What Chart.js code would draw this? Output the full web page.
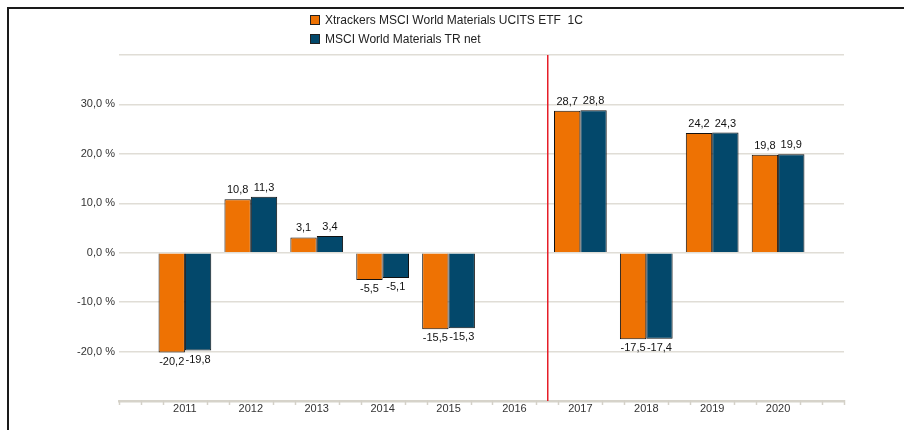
<!DOCTYPE html>
<html>
<head>
<meta charset="utf-8">
<script src="https://cdn.jsdelivr.net/npm/chart.js@4.4.1/dist/chart.umd.min.js"></script>
<style>
  html, body { margin: 0; padding: 0; background: #fff; }
  #wrap { position: relative; width: 904px; height: 430px; overflow: hidden; }
  #frame { position: absolute; left: 7px; top: 7px; width: 904px; height: 430px;
           border-top: 2px solid #1a1a1a; border-left: 2px solid #1a1a1a; }
  #legend { position: absolute; left: 310px; top: 11px; font-family: "Liberation Sans", Arial, sans-serif;
            font-size: 12px; color: #222; }
  #legend div { height: 19px; line-height: 19px; white-space: pre; }
  #legend span.box { display: inline-block; width: 8px; height: 8px; border: 1px solid #222;
                     margin-right: 5px; vertical-align: -1px; }
  canvas { position: absolute; left: 0; top: 0; }
</style>
</head>
<body>
<div id="wrap">
  <canvas id="chart" width="904" height="430"></canvas>
  <div id="frame"></div>
  <div id="legend"></div>
</div>
<script>
// data
const years = ['2011', '2012', '2013', '2014', '2015', '2016', '2017', '2018', '2019', '2020'];
const etfName = 'Xtrackers MSCI World Materials UCITS ETF  1C';
const etfValues = [-20.2, 10.8, 3.1, -5.5, -15.5, null, 28.7, -17.5, 24.2, 19.8];
const idxName = 'MSCI World Materials TR net';
const idxValues = [-19.8, 11.3, 3.4, -5.1, -15.3, null, 28.8, -17.4, 24.3, 19.9];
const yTicks = [-30, -20, -10, 0, 10, 20, 30, 40];
const hiddenTickLabels = [-30, 40];
const markerAfter = '2016';

const orange = '#ee7203';
const teal = '#03486b';

// one empty slot on each side
const labels = [''].concat(years, ['']);
const pad = arr => [null].concat(arr, [null]);

const fmt = v => v.toFixed(1).replace('.', ',');

// legend (stacked)
const legend = document.getElementById('legend');
[[etfName, orange], [idxName, teal]].forEach(([name, col]) => {
  const row = document.createElement('div');
  row.innerHTML = '<span class="box" style="background:' + col + '"></span>';
  row.appendChild(document.createTextNode(name));
  legend.appendChild(row);
});

// value labels above / below the bars
const valueLabels = {
  id: 'valueLabels',
  afterDatasetsDraw(chart) {
    const c = chart.ctx;
    c.save();
    c.font = '11px "Liberation Sans", Arial, sans-serif';
    c.fillStyle = '#111';
    c.textAlign = 'center';
    c.textBaseline = 'middle';
    chart.data.datasets.forEach((ds, di) => {
      chart.getDatasetMeta(di).data.forEach((bar, i) => {
        const v = ds.data[i];
        if (v == null) return;
        const y = v >= 0 ? bar.y - 9 : bar.y + 9;
        c.fillText(fmt(v), bar.x, y);
      });
    });
    c.restore();
  }
};

// small axis ticks + red separator line
const extras = {
  id: 'extras',
  afterDraw(chart) {
    const c = chart.ctx;
    const x = chart.scales.x;
    const area = chart.chartArea;
    c.save();
    c.strokeStyle = '#d4d1c8';
    c.lineWidth = 1.5;
    const n = (labels.length - 1) * 3;
    for (let k = 0; k <= n; k++) {
      if (k % 3 === 0 && k > 0 && k < n) continue;
      const px = Math.round(x.getPixelForValue(k / 3)) + 0.5;
      c.beginPath();
      c.moveTo(px, area.bottom - 1);
      c.lineTo(px, area.bottom + 4);
      c.stroke();
    }
    c.restore();

    const idx = labels.indexOf(markerAfter);
    const rx = Math.round(x.getPixelForValue(idx + 0.5));
    c.save();
    c.fillStyle = 'rgb(230, 30, 40)';
    c.fillRect(rx, area.top, 1.5, area.bottom - area.top);
    c.restore();
  }
};

new Chart(document.getElementById('chart'), {
  type: 'bar',
  data: {
    labels: labels,
    datasets: [
      { label: etfName, data: pad(etfValues), backgroundColor: orange, borderColor: '#111', borderWidth: 1 },
      { label: idxName, data: pad(idxValues), backgroundColor: teal, borderColor: '#111', borderWidth: 1 }
    ]
  },
  options: {
    responsive: false,
    animation: false,
    datasets: { bar: { categoryPercentage: 0.8, barPercentage: 1.0 } },
    layout: { padding: { left: 0, right: 60, top: 55, bottom: 12 } },
    plugins: { legend: { display: false }, tooltip: { enabled: false } },
    scales: {
      x: {
        offset: false,
        grid: { display: false, drawTicks: false },
        border: { display: true, color: '#d6d3ca', width: 2.5 },
        ticks: { padding: 1, color: '#333', font: { family: '"Liberation Sans", Arial, sans-serif', size: 11 },
                 autoSkip: false, maxRotation: 0 },
        afterFit: s => { s.height = 17; }
      },
      y: {
        min: yTicks[0],
        max: yTicks[yTicks.length - 1],
        afterBuildTicks: s => { s.ticks = yTicks.map(v => ({ value: v })); },
        grid: { color: '#e0ddd6', lineWidth: 1.5, drawTicks: false },
        border: { display: false },
        ticks: {
          padding: 4,
          color: '#333',
          font: { family: '"Liberation Sans", Arial, sans-serif', size: 11 },
          callback: v => hiddenTickLabels.includes(v) ? '' : fmt(v) + ' %'
        },
        afterFit: s => { s.width = 119; }
      }
    }
  },
  plugins: [valueLabels, extras]
});
</script>
</body>
</html>
